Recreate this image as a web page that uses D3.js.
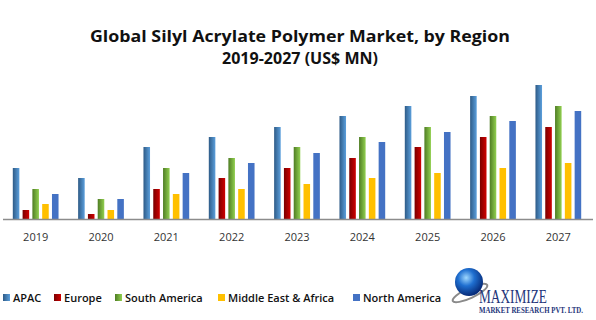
<!DOCTYPE html>
<html>
<head>
<meta charset="utf-8">
<script src="https://cdn.jsdelivr.net/npm/d3@7"></script>
<style>
  body { margin: 0; background: #fff; }
  svg { display: block; }
</style>
</head>
<body>
<div id="chart"></div>
<script>
// values (US$ MN, approximate)
var years = ["2019","2020","2021","2022","2023","2024","2025","2026","2027"];
var regions = ["APAC","Europe","South America","Middle East & Africa","North America"];
var apac = [51, 41, 72, 82, 92, 103, 113, 123, 134];
var europe = [9, 5, 30, 41, 51, 61, 72, 82, 92];
var southAmerica = [30, 20, 51, 61, 72, 82, 92, 103, 113];
var mea = [15, 9, 25, 30, 35, 41, 46, 51, 56];
var northAmerica = [25, 20, 46, 56, 66, 77, 87, 98, 108];

var series = [apac, europe, southAmerica, mea, northAmerica];

var width = 596, height = 320;
var svg = d3.select("#chart").append("svg")
    .attr("width", width)
    .attr("height", height);

var defs = svg.append("defs");
function grad(id, c0, c1) {
    var g = defs.append("linearGradient").attr("id", id)
        .attr("x1", "0%").attr("x2", "100%").attr("y1", "0%").attr("y2", "0%");
    g.append("stop").attr("offset", "0%").attr("stop-color", c0);
    g.append("stop").attr("offset", "100%").attr("stop-color", c1);
}
grad("g0", "#2e5b87", "#5b9fdc");
grad("g1", "#7a0000", "#d00000");
grad("g2", "#4f7d24", "#92d050");
var fills = ["url(#g0)", "url(#g1)", "url(#g2)", "#ffc000", "#4472c4"];

// title (the original is stretched sideways)
var titleLines = [
    {t: "Global Silyl Acrylate Polymer Market, by Region", y: 41.5, w: 420},
    {t: "2019-2027 (US$ MN)", y: 63.5, w: 156}
];
svg.selectAll(".title")
    .data(titleLines)
    .enter()
    .append("text")
    .attr("class", "title")
    .attr("x", function(d) { return 300 - d.w / 2; })
    .attr("y", function(d) { return d.y; })
    .attr("font-family", "Open Sans")
    .attr("font-weight", "bold")
    .attr("font-size", 15.5)
    .attr("fill", "#111")
    .attr("textLength", function(d) { return d.w; })
    .attr("lengthAdjust", "spacingAndGlyphs")
    .text(function(d) { return d.t; });

var x = d3.scaleBand()
    .domain(years)
    .range([3, 591])
    .paddingInner(0.3)
    .paddingOuter(0.15);

var xs = d3.scaleBand()
    .domain(d3.range(regions.length))
    .range([0, x.bandwidth()])
    .paddingInner(0.33);

var y = d3.scaleLinear()
    .domain([0, 139])
    .range([219, 80]);

var groups = svg.selectAll(".year")
    .data(years)
    .enter()
    .append("g")
    .attr("class", "year")
    .attr("transform", function(d) { return "translate(" + x(d) + ",0)"; });

groups.selectAll("rect")
    .data(function(d, i) {
        return series.map(function(s, k) { return {k: k, v: s[i]}; });
    })
    .enter()
    .append("rect")
    .attr("x", function(d) { return xs(d.k); })
    .attr("width", xs.bandwidth())
    .attr("y", function(d) { return y(d.v); })
    .attr("height", function(d) { return y(0) - y(d.v); })
    .attr("fill", function(d) { return fills[d.k]; });

// x axis
var xAxis = svg.append("g")
    .attr("transform", "translate(0," + y(0) + ")")
    .call(d3.axisBottom(x).tickSize(0).tickPadding(14));
xAxis.select(".domain")
    .attr("d", "M3,0.5H593")
    .attr("stroke", "#8c8c8c")
    .attr("stroke-width", 1.5);
xAxis.selectAll("text")
    .attr("font-family", "Open Sans")
    .attr("font-size", 11)
    .attr("fill", "#333");

// legend
var legendX = [3, 54, 115, 218, 353];
var items = svg.append("g").selectAll("g")
    .data(regions)
    .enter()
    .append("g")
    .attr("transform", function(d, i) { return "translate(" + legendX[i] + ",294)"; });
items.append("rect")
    .attr("width", 7).attr("height", 7)
    .attr("fill", function(d, i) { return fills[i]; });
items.append("text")
    .attr("x", 10).attr("y", 7.5)
    .attr("font-family", "Open Sans")
    .attr("font-weight", 600)
    .attr("font-size", 11)
    .attr("fill", "#111")
    .text(function(d) { return d; });

// logo
var rg = defs.append("radialGradient").attr("id", "globe")
    .attr("cx", "40%").attr("cy", "35%").attr("r", "65%");
rg.append("stop").attr("offset", "0%").attr("stop-color", "#9fd8ff");
rg.append("stop").attr("offset", "45%").attr("stop-color", "#1f6fd0");
rg.append("stop").attr("offset", "100%").attr("stop-color", "#062a78");
var logo = svg.append("g");
logo.append("ellipse")
    .attr("cx", 470).attr("cy", 293).attr("rx", 19).attr("ry", 5)
    .attr("fill", "none").attr("stroke", "#8a8a8a").attr("stroke-width", 2)
    .attr("transform", "rotate(-25 470 293)");
logo.append("circle")
    .attr("cx", 469).attr("cy", 282).attr("r", 14)
    .attr("fill", "url(#globe)");
logo.append("text")
    .attr("x", 479).attr("y", 303)
    .attr("font-family", "Liberation Serif")
    .attr("font-size", 19)
    .attr("fill", "#23357a")
    .attr("textLength", 68)
    .attr("lengthAdjust", "spacingAndGlyphs")
    .text("MAXIMIZE");
logo.append("text")
    .attr("x", 479).attr("y", 313)
    .attr("font-family", "Liberation Serif")
    .attr("font-weight", "bold")
    .attr("font-size", 7.5)
    .attr("fill", "#23357a")
    .attr("textLength", 104)
    .attr("lengthAdjust", "spacingAndGlyphs")
    .text("MARKET RESEARCH PVT. LTD.");
</script>
</body>
</html>
